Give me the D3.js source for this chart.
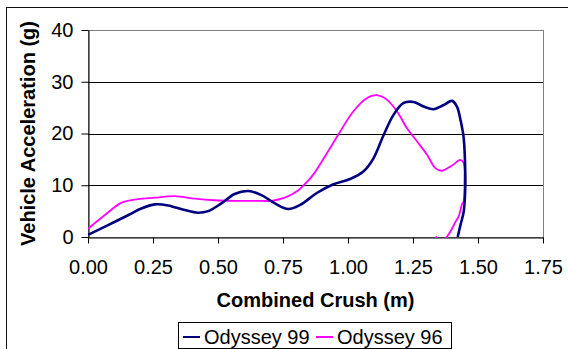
<!DOCTYPE html>
<html>
<head>
<meta charset="utf-8">
<script src="https://cdn.jsdelivr.net/npm/d3@7"></script>
<style>
  body { margin: 0; background: #fff; }
  svg { display: block; font-family: "Liberation Sans", Arial, sans-serif; }
</style>
</head>
<body>
<svg id="chart" width="568" height="349"></svg>
<script>
// Odyssey 99 (navy) - crush (m) vs acceleration (g)
const crush99 = [0, 0.077, 0.154, 0.205, 0.257, 0.308, 0.372, 0.423, 0.462, 0.513, 0.564, 0.616, 0.667, 0.719, 0.770, 0.816,
  0.880, 0.944, 1.008, 1.060, 1.098, 1.137, 1.175, 1.214, 1.252, 1.291, 1.330, 1.368, 1.400, 1.419, 1.434, 1.445, 1.451, 1.451, 1.445, 1.432, 1.422]
const accel99 = [0.4, 2.3, 4.2, 5.5, 6.3, 6.1, 5.2, 4.7, 5.0, 6.5, 8.3, 8.9, 8.1, 6.5, 5.4, 6.2,
  8.5, 10.2, 11.2, 12.7, 15.2, 19.7, 23.6, 25.9, 26.1, 25.2, 24.7, 25.5, 26.3, 25.2, 22.3, 19.1, 12.7, 9.4, 4.9, 2.2, 0]

// Odyssey 96 (magenta)
const crush96 = [0, 0.064, 0.128, 0.192, 0.257, 0.334, 0.411, 0.488, 0.564, 0.642, 0.706, 0.757, 0.808, 0.847,
  0.867, 0.919, 0.970, 1.021, 1.072, 1.111, 1.150, 1.188, 1.227, 1.265, 1.304, 1.336, 1.361, 1.400, 1.432, 1.445,
  1.448, 1.445, 1.439, 1.425, 1.413, 1.400, 1.378, 1.358, 1.338]
const accel96 = [1.6, 4.2, 6.6, 7.3, 7.6, 7.9, 7.4, 7.1, 7.0, 7.0, 7.0, 7.6, 9.0, 10.9,
  12.1, 16.2, 20.4, 24.3, 26.8, 27.4, 26.5, 24.3, 21.0, 18.5, 15.9, 13.3, 12.8, 13.8, 14.9, 14.3,
  10.7, 6.9, 6.4, 3.9, 2.9, 1.6, -0.1, -1.0, 0.1]

const xTicks = [0, 0.25, 0.5, 0.75, 1.0, 1.25, 1.5, 1.75]
const yTicks = [0, 10, 20, 30, 40]
const seriesNames = ['Odyssey 99', 'Odyssey 96']
const seriesColors = ['#000080', '#ff00ff']

const svg = d3.select('#chart')
const plot = { left: 88, right: 543, top: 30, bottom: 237 }

const x = d3.scaleLinear().domain([0, 1.75]).range([plot.left, plot.right])
const y = d3.scaleLinear().domain([0, 40]).range([plot.bottom, plot.top])

// outer chart border
svg.append('rect')
  .attr('x', 6.5).attr('y', 7.5).attr('width', 600).attr('height', 400)
  .attr('fill', 'none').attr('stroke', '#111')

// plot area border (grey)
svg.append('rect')
  .attr('x', plot.left + 0.5).attr('y', plot.top + 0.5)
  .attr('width', plot.right - plot.left).attr('height', plot.bottom - plot.top)
  .attr('fill', 'none').attr('stroke', '#808080')

// gridlines
svg.append('g').selectAll('line').data(yTicks.filter(d => d > 0 && d < 40))
  .join('line')
  .attr('x1', plot.left).attr('x2', plot.right)
  .attr('y1', d => Math.round(y(d)) + 0.5).attr('y2', d => Math.round(y(d)) + 0.5)
  .attr('stroke', '#000')

const axisY = d3.axisLeft(y).tickValues(yTicks).tickSize(7).tickSizeOuter(0).tickPadding(8)
const axisX = d3.axisBottom(x).tickValues(xTicks).tickSize(6).tickSizeOuter(0).tickPadding(16)
  .tickFormat(d3.format('.2f'))

svg.append('g')
  .attr('transform', `translate(${plot.left + 0.5},0)`)
  .call(axisY)
  .call(g => g.selectAll('text').attr('font-size', 20).attr('fill', '#000').attr('font-family', null))
  .call(g => g.selectAll('line, path').attr('stroke', '#000'))

svg.append('g')
  .attr('transform', `translate(0,${plot.bottom + 0.5})`)
  .call(axisX)
  .call(g => g.selectAll('text').attr('font-size', 20).attr('fill', '#000').attr('font-family', null))
  .call(g => g.selectAll('line, path').attr('stroke', '#000'))

// lines, clipped to plot area
svg.append('clipPath').attr('id', 'clip')
  .append('rect')
  .attr('x', plot.left).attr('y', plot.top)
  .attr('width', plot.right - plot.left).attr('height', plot.bottom - plot.top + 1)

const lineGenerator = d3.line().x(d => x(d[0])).y(d => y(d[1])).curve(d3.curveCatmullRom.alpha(0.5))

const data96 = crush96.map((c, i) => [c, accel96[i]])
const data99 = crush99.map((c, i) => [c, accel99[i]])

const lines = svg.append('g').attr('clip-path', 'url(#clip)')
lines.append('path')
  .attr('d', lineGenerator(data96))
  .attr('fill', 'none').attr('stroke', seriesColors[1]).attr('stroke-width', 1.8)
lines.append('path')
  .attr('d', lineGenerator(data99))
  .attr('fill', 'none').attr('stroke', seriesColors[0]).attr('stroke-width', 2.6)

// axis titles
svg.append('text')
  .attr('x', (plot.left + plot.right) / 2).attr('y', 307)
  .attr('text-anchor', 'middle').attr('font-size', 20).attr('font-weight', 'bold')
  .text('Combined Crush (m)')

svg.append('text')
  .attr('transform', `translate(35,${(plot.top + plot.bottom) / 2}) rotate(-90)`)
  .attr('text-anchor', 'middle').attr('font-size', 20).attr('font-weight', 'bold')
  .text('Vehicle Acceleration (g)')

// legend
const legend = svg.append('g')
legend.append('rect')
  .attr('x', 178.5).attr('y', 322.5).attr('width', 273).attr('height', 26)
  .attr('fill', '#fff').attr('stroke', '#000')

const legendX = [183, 316]
legend.selectAll('line').data(seriesNames)
  .join('line')
  .attr('x1', (d, i) => legendX[i]).attr('x2', (d, i) => legendX[i] + 17)
  .attr('y1', 337).attr('y2', 337)
  .attr('stroke', (d, i) => seriesColors[i]).attr('stroke-width', 2)
legend.selectAll('text').data(seriesNames)
  .join('text')
  .attr('x', (d, i) => legendX[i] + 21).attr('y', 343.5)
  .attr('font-size', 20)
  .text(d => d)
</script>
</body>
</html>
